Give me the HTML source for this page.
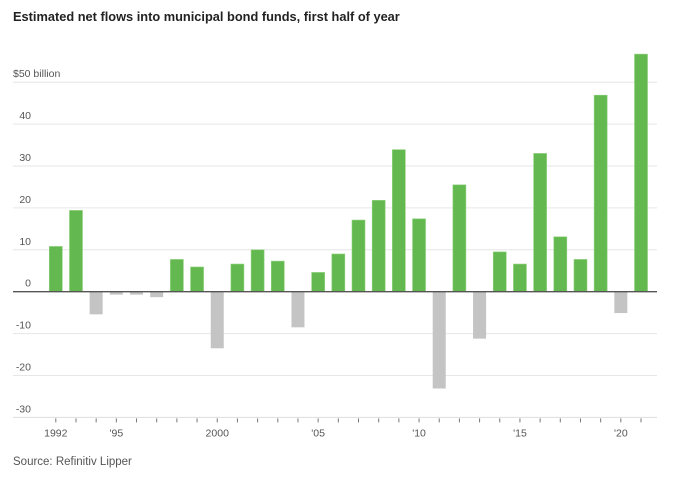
<!DOCTYPE html>
<html><head><meta charset="utf-8"><style>
body{margin:0;background:#fff;width:680px;height:474px;overflow:hidden;font-family:"Liberation Sans",sans-serif}
</style></head><body>
<svg width="680" height="474">
<text x="13" y="21" font-size="12.8" font-weight="bold" fill="#222">Estimated net flows into municipal bond funds, first half of year</text>
<g id="grid"></g><g id="bars"></g><g id="xaxis"></g>
<text x="13" y="465" font-size="11.5" fill="#555">Source: Refinitiv Lipper</text>
</svg>
<script>
const years=[1992,1993,1994,1995,1996,1997,1998,1999,2000,2001,2002,2003,2004,2005,2006,2007,2008,2009,2010,2011,2012,2013,2014,2015,2016,2017,2018,2019,2020,2021];
const flows=[10.8,19.4,-5.4,-0.7,-0.7,-1.3,7.7,5.9,-13.5,6.6,10.0,7.3,-8.5,4.6,9.0,17.1,21.8,33.9,17.4,-23.1,25.5,-11.2,9.5,6.6,33.0,13.1,7.7,46.9,-5.1,56.7];
const yTicks=[50,40,30,20,10,0,-10,-20,-30];
const yTickLabels=["$50 billion","40","30","20","10","0","-10","-20","-30"];
const xLabelYears=[1992,1995,2000,2005,2010,2015,2020];
const xLabels=["1992","'95","2000","'05","'10","'15","'20"];
const NS="http://www.w3.org/2000/svg";
const y=v=>291.7-v*4.19;
const x=yr=>55.8+(yr-1992)*20.18;
function mk(t,a,p){const e=document.createElementNS(NS,t);for(const k in a)e.setAttribute(k,a[k]);document.getElementById(p).appendChild(e);return e;}
yTicks.forEach((v,i)=>{
  if(v!==0&&v!==-30){const l=mk('line',{x1:13,x2:657,y1:y(v),y2:y(v),stroke:'#e6e6e6','stroke-width':1},'grid');
  
  }
  const t=mk('text',v===50?{x:13,y:y(v)-5,'font-size':10.5,fill:'#555'}:{x:31,y:y(v)-5,'font-size':10.5,fill:'#555','text-anchor':'end'},'grid');
  t.textContent=yTickLabels[i];
  
  
});
years.forEach((yr,i)=>{
  const v=flows[i];const top=v>=0?y(v):y(0);const h=Math.abs(y(v)-y(0));
  const r=mk('rect',{x:x(yr)-6.5,y:top,width:13,height:h,fill:v>=0?'#63b94f':'#c4c4c4',stroke:v>=0?'#8fd07e':'none','stroke-width':0.6},'bars');
  
  
  const tk=mk('line',{x1:x(yr),x2:x(yr),y1:y(-30)+1,y2:y(-30)+5,stroke:'#777','stroke-width':1},'xaxis');
  
  
});
const z=mk('line',{x1:13,x2:657,y1:y(0),y2:y(0),stroke:'#555','stroke-width':1.3},'bars');


const b=mk('line',{x1:13,x2:657,y1:y(-30),y2:y(-30),stroke:'#ddd','stroke-width':1},'xaxis');


xLabelYears.forEach((yr,i)=>{
  const t=mk('text',{x:x(yr),y:y(-30)+19,'font-size':10.5,fill:'#555','text-anchor':'middle'},'xaxis');
  t.textContent=xLabels[i];
  
  
});
</script>
</body></html>
